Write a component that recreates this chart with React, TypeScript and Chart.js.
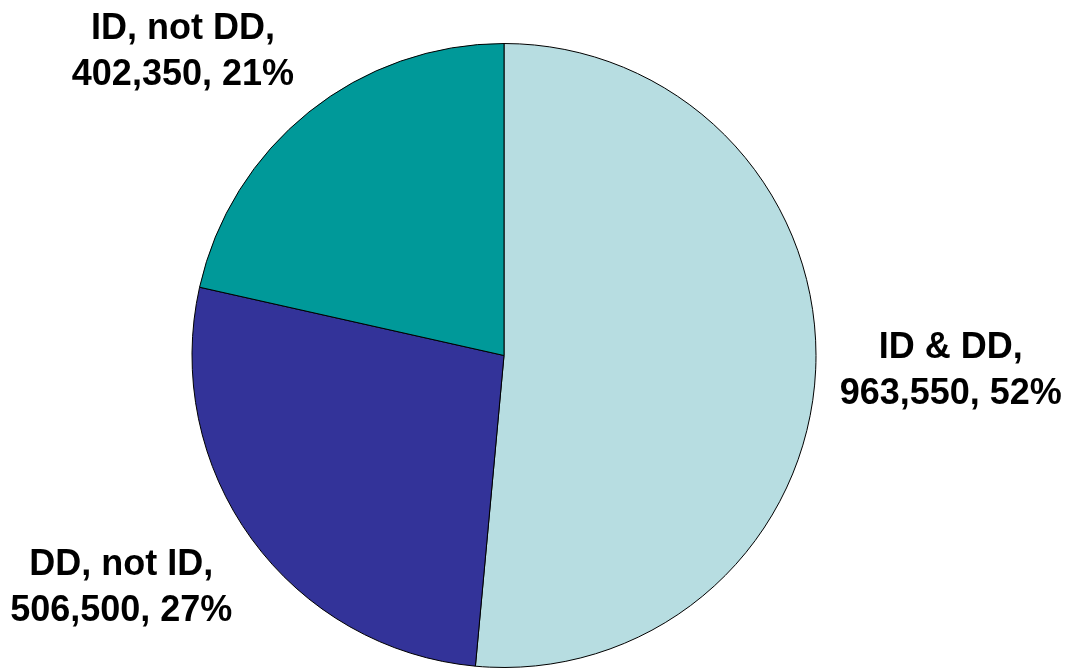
import React, { useEffect, useRef } from "react";
import { Chart, registerables } from "chart.js";

Chart.register(...registerables);

const categories = ["ID & DD", "DD, not ID", "ID, not DD"];
const values = [963550, 506500, 402350];
const percentLabels = [52, 27, 21];
const colors = ["#B7DDE1", "#333399", "#009999"];

const labelPlugin = {
  id: "outsideLabels",
  afterDatasetsDraw(chart: any) {
    const ctx = chart.ctx;
    const meta = chart.getDatasetMeta(0);
    ctx.save();
    ctx.font = "bold 36px 'Liberation Sans', Arial, sans-serif";
    ctx.fillStyle = "#000000";
    ctx.textAlign = "center";
    ctx.textBaseline = "middle";
    const lineGap = 46;
    meta.data.forEach((arc: any, i: number) => {
      const p = arc.getProps(["x", "y", "startAngle", "endAngle", "outerRadius"], true);
      const mid = (p.startAngle + p.endAngle) / 2;
      const dx = Math.cos(mid);
      const dy = Math.sin(mid);
      const line1 = categories[i] + ",";
      const line2 = values[i].toLocaleString("en-US") + ", " + percentLabels[i] + "%";
      const w = Math.max(ctx.measureText(line1).width, ctx.measureText(line2).width);
      const h = lineGap + 30;
      const dist = p.outerRadius + 24;
      const ax = p.x + dx * dist;
      const ay = p.y + dy * dist;
      const sx = Math.max(-1, Math.min(1, dx * 2));
      const sy = Math.max(-1, Math.min(1, dy * 2));
      const cx = ax + sx * w / 2;
      const cy = ay + sy * h / 2 - 3;
      ctx.fillText(line1, cx, cy - lineGap / 2);
      ctx.fillText(line2, cx, cy + lineGap / 2);
    });
    ctx.restore();
  },
};

export default function App() {
  const ref = useRef<HTMLCanvasElement | null>(null);
  useEffect(() => {
    document.body.style.margin = "0";
    document.body.style.background = "#ffffff";
    if (!ref.current) return;
    const chart = new Chart(ref.current, {
      type: "pie",
      data: {
        labels: categories,
        datasets: [
          {
            data: values,
            backgroundColor: colors,
            borderColor: "#000000",
            borderWidth: 1,
            hoverOffset: 0,
          },
        ],
      },
      options: {
        responsive: false,
        animation: false,
        layout: { padding: { top: 43, bottom: 1, left: 0, right: 58 } },
        plugins: {
          legend: { display: false },
          tooltip: { enabled: false },
        },
      },
      plugins: [labelPlugin],
    });
    return () => chart.destroy();
  }, []);
  return (
    <div style={{ width: 1066, height: 669, background: "#ffffff" }}>
      <canvas ref={ref} width={1066} height={669} style={{ display: "block" }} />
    </div>
  );
}
